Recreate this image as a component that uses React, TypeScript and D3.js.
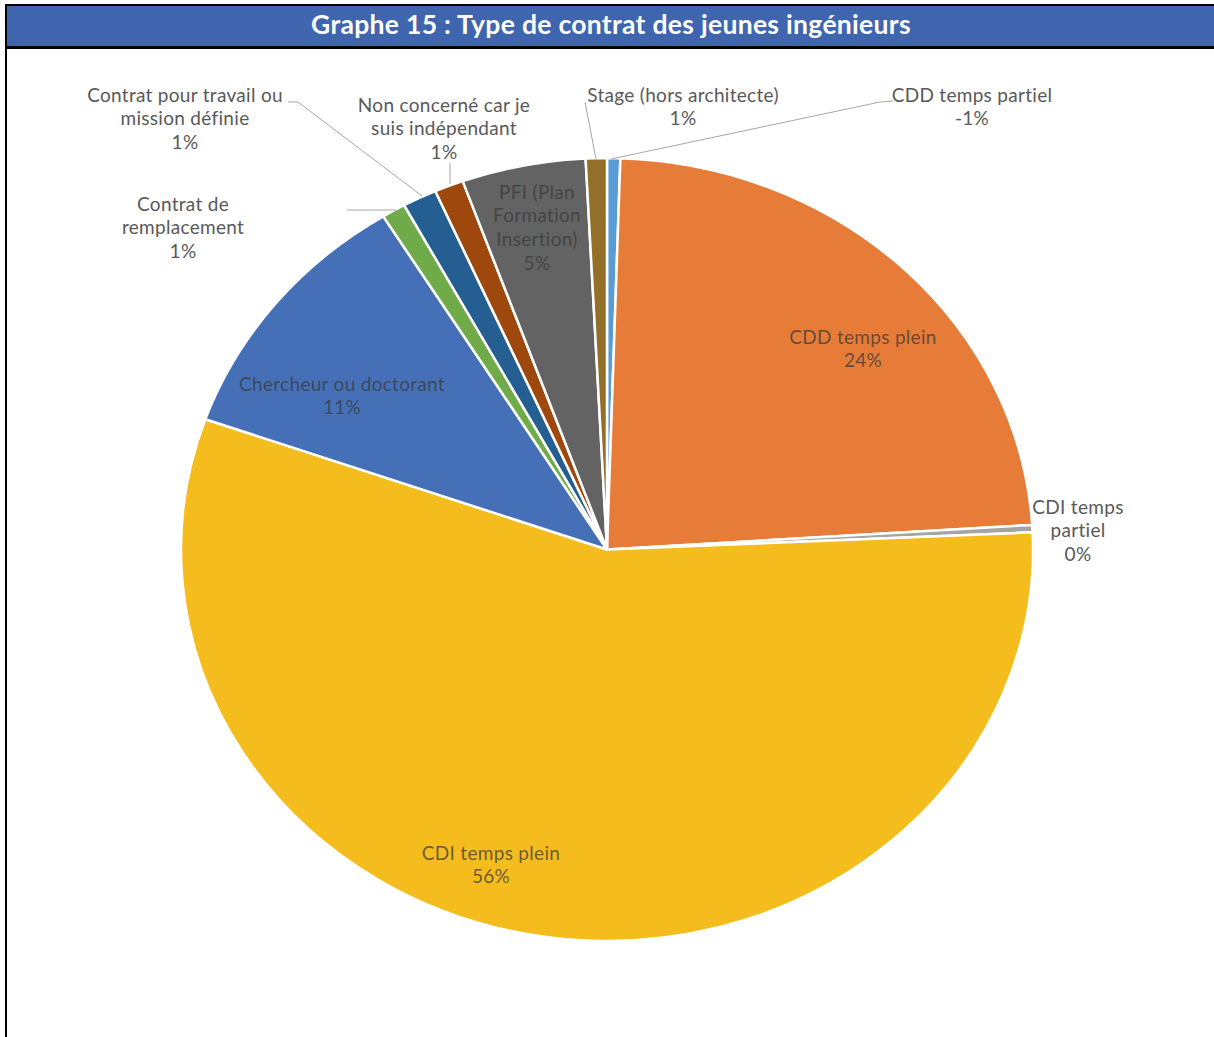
import React from "react";
import * as d3 from "d3";

const categories = [
  "CDD temps partiel",
  "CDD temps plein",
  "CDI temps partiel",
  "CDI temps plein",
  "Chercheur ou doctorant",
  "Contrat de remplacement",
  "Contrat pour travail ou mission définie",
  "Non concerné car je suis indépendant",
  "PFI (Plan Formation Insertion)",
  "Stage (hors architecte)",
];
const shares = [0.5, 23.5, 0.3, 56.1, 10.8, 0.9, 1.3, 1.1, 4.7, 0.8];
const percentLabels = ["-1%", "24%", "0%", "56%", "11%", "1%", "1%", "1%", "5%", "1%"];
const colors = [
  "#5B9BD5", "#E67C38", "#A5A5A5", "#F5BC1E", "#4570B8",
  "#6FAB48", "#255E91", "#9E480E", "#636363", "#93702A",
];

// label layout (text lines, centre x, first-line centre y, inside?)
const labelLayout = [
  { lines: ["CDD temps partiel"], x: 972, y: 95, inside: false, leader: [[893, 101], [880, 102], [611, 159]] },
  { lines: ["CDD temps plein"], x: 863, y: 337, inside: true },
  { lines: ["CDI temps", "partiel"], x: 1078, y: 507, inside: false },
  { lines: ["CDI temps plein"], x: 491, y: 853, inside: true },
  { lines: ["Chercheur ou doctorant"], x: 342, y: 384, inside: true },
  { lines: ["Contrat de", "remplacement"], x: 183, y: 204, inside: false, leader: [[347, 210], [396, 210]] },
  { lines: ["Contrat pour travail ou", "mission définie"], x: 185, y: 95, inside: false, leader: [[288, 102], [298, 102], [422, 196]] },
  { lines: ["Non concerné car je", "suis indépendant"], x: 444, y: 105, inside: false, leader: [[450, 163], [450, 184]] },
  { lines: ["PFI (Plan", "Formation", "Insertion)"], x: 537, y: 192, inside: true },
  { lines: ["Stage (hors architecte)"], x: 683, y: 95, inside: false, leader: [[585, 102], [596, 159]] },
];

const W = 1214;
const H = 1037;
const cx = 607;
const cy = 549.5;
const ry = 391.5;
const sx = 426 / 391.5;
const lineH = 23.7;

export default function App() {
  const pie = d3.pie<number>().sort(null).value((d) => d).startAngle(0).endAngle(2 * Math.PI);
  const arcs = pie(shares);
  const arc = d3.arc<d3.PieArcDatum<number>>().innerRadius(0).outerRadius(ry);
  const font = "Lato, 'Open Sans', sans-serif";

  return (
    <svg
      width={W}
      height={H}
      style={{ position: "absolute", left: 0, top: 0, background: "#fff" }}
      fontFamily={font}
    >
      <rect x={0} y={0} width={W} height={H} fill="#fff" />
      {/* frame and title */}
      <rect x={5} y={4} width={W - 5} height={45} fill="#000" />
      <rect x={7} y={6} width={W - 7} height={40} fill="#3F65AE" />
      <rect x={5} y={4} width={2} height={H - 4} fill="#000" />
      <text x={611} y={34} textAnchor="middle" fill="#fff" fontSize={26.5} fontWeight={700} letterSpacing={0.3}>
        Graphe 15 : Type de contrat des jeunes ingénieurs
      </text>

      <g transform={`translate(${cx},${cy}) scale(${sx},1)`}>
        {arcs.map((a, i) => (
          <path
            key={categories[i]}
            d={arc(a) || ""}
            fill={colors[i]}
            stroke="#fff"
            strokeWidth={2.5}
            strokeLinejoin="round"
            vectorEffect="non-scaling-stroke"
          />
        ))}
      </g>

      {labelLayout.map((l, i) =>
        l.leader ? (
          <polyline
            key={"ld" + i}
            points={l.leader.map((p) => p.join(",")).join(" ")}
            fill="none"
            stroke="#A6A6A6"
            strokeWidth={1}
          />
        ) : null
      )}

      {labelLayout.map((l, i) => {
        const lines = [...l.lines, percentLabels[i]];
        return (
          <text
            key={"lb" + i}
            textAnchor="middle"
            fontSize={19}
            letterSpacing={0.3}
            fill={l.inside ? "#3a3a3a" : "#595959"}
            fillOpacity={l.inside ? 0.75 : 1}
          >
            {lines.map((t, j) => (
              <tspan key={j} x={l.x} y={l.y + j * lineH + 6.5}>
                {t}
              </tspan>
            ))}
          </text>
        );
      })}
    </svg>
  );
}
